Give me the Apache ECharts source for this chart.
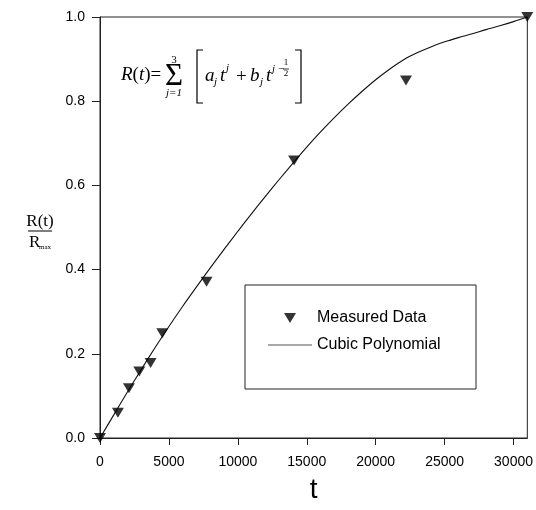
<!DOCTYPE html>
<html>
<head>
<meta charset="utf-8">
<script src="https://cdn.jsdelivr.net/npm/echarts@6/dist/echarts.min.js"></script>
<style>
  html, body { margin: 0; padding: 0; background: #fff; }
  #chart { width: 536px; height: 510px; }
</style>
</head>
<body>
<div id="chart"></div>
<script>
// measured points (t, R/Rmax)
const measuredT = [0, 1300, 2100, 2850, 3670, 4520, 7730, 14080, 22200, 31000]
const measuredR = [0, 0.06, 0.118, 0.158, 0.178, 0.249, 0.371, 0.659, 0.849, 1.0]

// fitted curve, every 1000
const fitT = [0, 1000, 2000, 3000, 4000, 5000, 6000, 7000, 8000, 9000, 10000,
  11000, 12000, 13000, 14000, 15000, 16000, 17000, 18000, 19000, 20000,
  21000, 22000, 23000, 24000, 25000, 26000, 27000, 28000, 29000, 30000, 31000]
const fitR = [0, 0.055, 0.11, 0.163, 0.215, 0.265, 0.313, 0.359, 0.404, 0.448, 0.491,
  0.533, 0.574, 0.614, 0.653, 0.691, 0.727, 0.761, 0.793, 0.823, 0.851,
  0.876, 0.898, 0.915, 0.929, 0.941, 0.951, 0.96, 0.97, 0.979, 0.989, 1.0]

const xTicks = [0, 5000, 10000, 15000, 20000, 25000, 30000]
const legendNames = ['Measured Data', 'Cubic Polynomial']

const SANS = '"Liberation Sans", Arial, sans-serif'
const SERIF = '"Liberation Serif", "Times New Roman", serif'
const TRI = 'path://M0,0 L12,0 L6,10 Z'
const BAR = 'path://M0,0 L44,0 L44,1 L0,1 Z'

const chart = echarts.init(document.getElementById('chart'))

// small helper for formula pieces
const txt = (text, x, y, size, italic, align) => ({
  type: 'text', x, y, z: 10,
  style: {
    text, fill: '#000', font: `${italic ? 'italic ' : ''}${size}px ${SERIF}`,
    textAlign: align || 'left', textVerticalAlign: 'middle'
  }
})
const ln = (pts, w) => ({
  type: 'polyline', z: 10,
  shape: { points: pts },
  style: { stroke: '#000', lineWidth: w || 1, fill: null }
})

const option = {
  backgroundColor: '#fff',
  animation: false,
  grid: {
    left: 100, right: 7, top: 17, bottom: 72,
    show: true, borderColor: '#222', borderWidth: 1
  },
  xAxis: {
    type: 'value', min: 0, max: 31000, interval: 5000,
    name: 't', nameLocation: 'middle', nameGap: 38,
    nameTextStyle: { fontFamily: SANS, fontSize: 28, color: '#000' },
    splitLine: { show: false },
    axisLine: { lineStyle: { color: '#222' } },
    axisTick: { length: 7, customValues: xTicks, lineStyle: { color: '#222' } },
    axisLabel: {
      customValues: xTicks, margin: 17, color: '#000',
      fontFamily: SANS, fontSize: 14,
      formatter: v => String(v)
    }
  },
  yAxis: {
    type: 'value', min: 0, max: 1, interval: 0.2,
    splitLine: { show: false },
    axisLine: { lineStyle: { color: '#222' } },
    axisTick: { length: 8, lineStyle: { color: '#222' } },
    axisLabel: {
      margin: 15, color: '#000', fontFamily: SANS, fontSize: 14,
      formatter: v => v.toFixed(1)
    }
  },
  legend: {
    data: [
      { name: legendNames[0], icon: TRI },
      { name: legendNames[1], icon: BAR, itemStyle: { color: '#555' } }
    ],
    orient: 'vertical', left: 263, top: 305, z: 20,
    itemWidth: 44, itemHeight: 10, itemGap: 11,
    textStyle: { fontFamily: SANS, fontSize: 16, color: '#000' }
  },
  graphic: [
    {
      type: 'rect', z: 1,
      shape: { x: 245, y: 285, width: 231, height: 104 },
      style: { fill: null, stroke: '#222', lineWidth: 1 }
    },
    // y axis name: R(t) / Rmax
    txt('R(t)', 40, 222, 17, false, 'center'),
    ln([[28, 231], [52, 231]]),
    txt('R', 29, 243, 17, false, 'left'),
    txt('max', 39, 247, 7, false, 'left'),
    // formula
    {
      type: 'text', x: 121, y: 75, z: 10,
      style: {
        text: '{i|R}{n|(}{i|t}{n|)=}',
        textVerticalAlign: 'middle',
        rich: {
          i: { font: `italic 19px ${SERIF}`, fill: '#000' },
          n: { font: `19px ${SERIF}`, fill: '#000' }
        }
      }
    },
    txt('\u03A3', 174, 77, 31, false, 'center'),
    txt('3', 174, 60, 11, false, 'center'),
    txt('j=1', 174, 93, 11, true, 'center'),
    ln([[203, 50], [197, 50], [197, 103], [203, 103]], 1.2),
    txt('a', 205, 76, 19, true),
    txt('j', 214, 82, 11, true),
    txt('t', 220, 76, 19, true),
    txt('j', 226, 68, 11, true),
    txt('+', 236, 77, 19, false),
    txt('b', 250, 76, 19, true),
    txt('j', 260, 82, 11, true),
    txt('t', 266, 76, 19, true),
    txt('j \u2212', 272, 69, 11, true),
    txt('1', 286, 63, 9, false, 'center'),
    ln([[283, 69], [289, 69]], 0.8),
    txt('2', 286, 74, 9, false, 'center'),
    ln([[295, 50], [301, 50], [301, 103], [295, 103]], 1.2)
  ],
  series: [
    {
      name: legendNames[1],
      type: 'line',
      symbol: 'none',
      smooth: 0.3,
      z: 2,
      lineStyle: { color: '#111', width: 1.1 },
      itemStyle: { color: '#111' },
      data: fitT.map((t, i) => [t, fitR[i]])
    },
    {
      name: legendNames[0],
      type: 'scatter',
      symbol: TRI,
      symbolSize: [12, 10],
      clip: false,
      z: 3,
      itemStyle: { color: '#000' },
      data: measuredT.map((t, i) => [t, measuredR[i]])
    }
  ]
}

chart.setOption(option)
</script>
</body>
</html>
